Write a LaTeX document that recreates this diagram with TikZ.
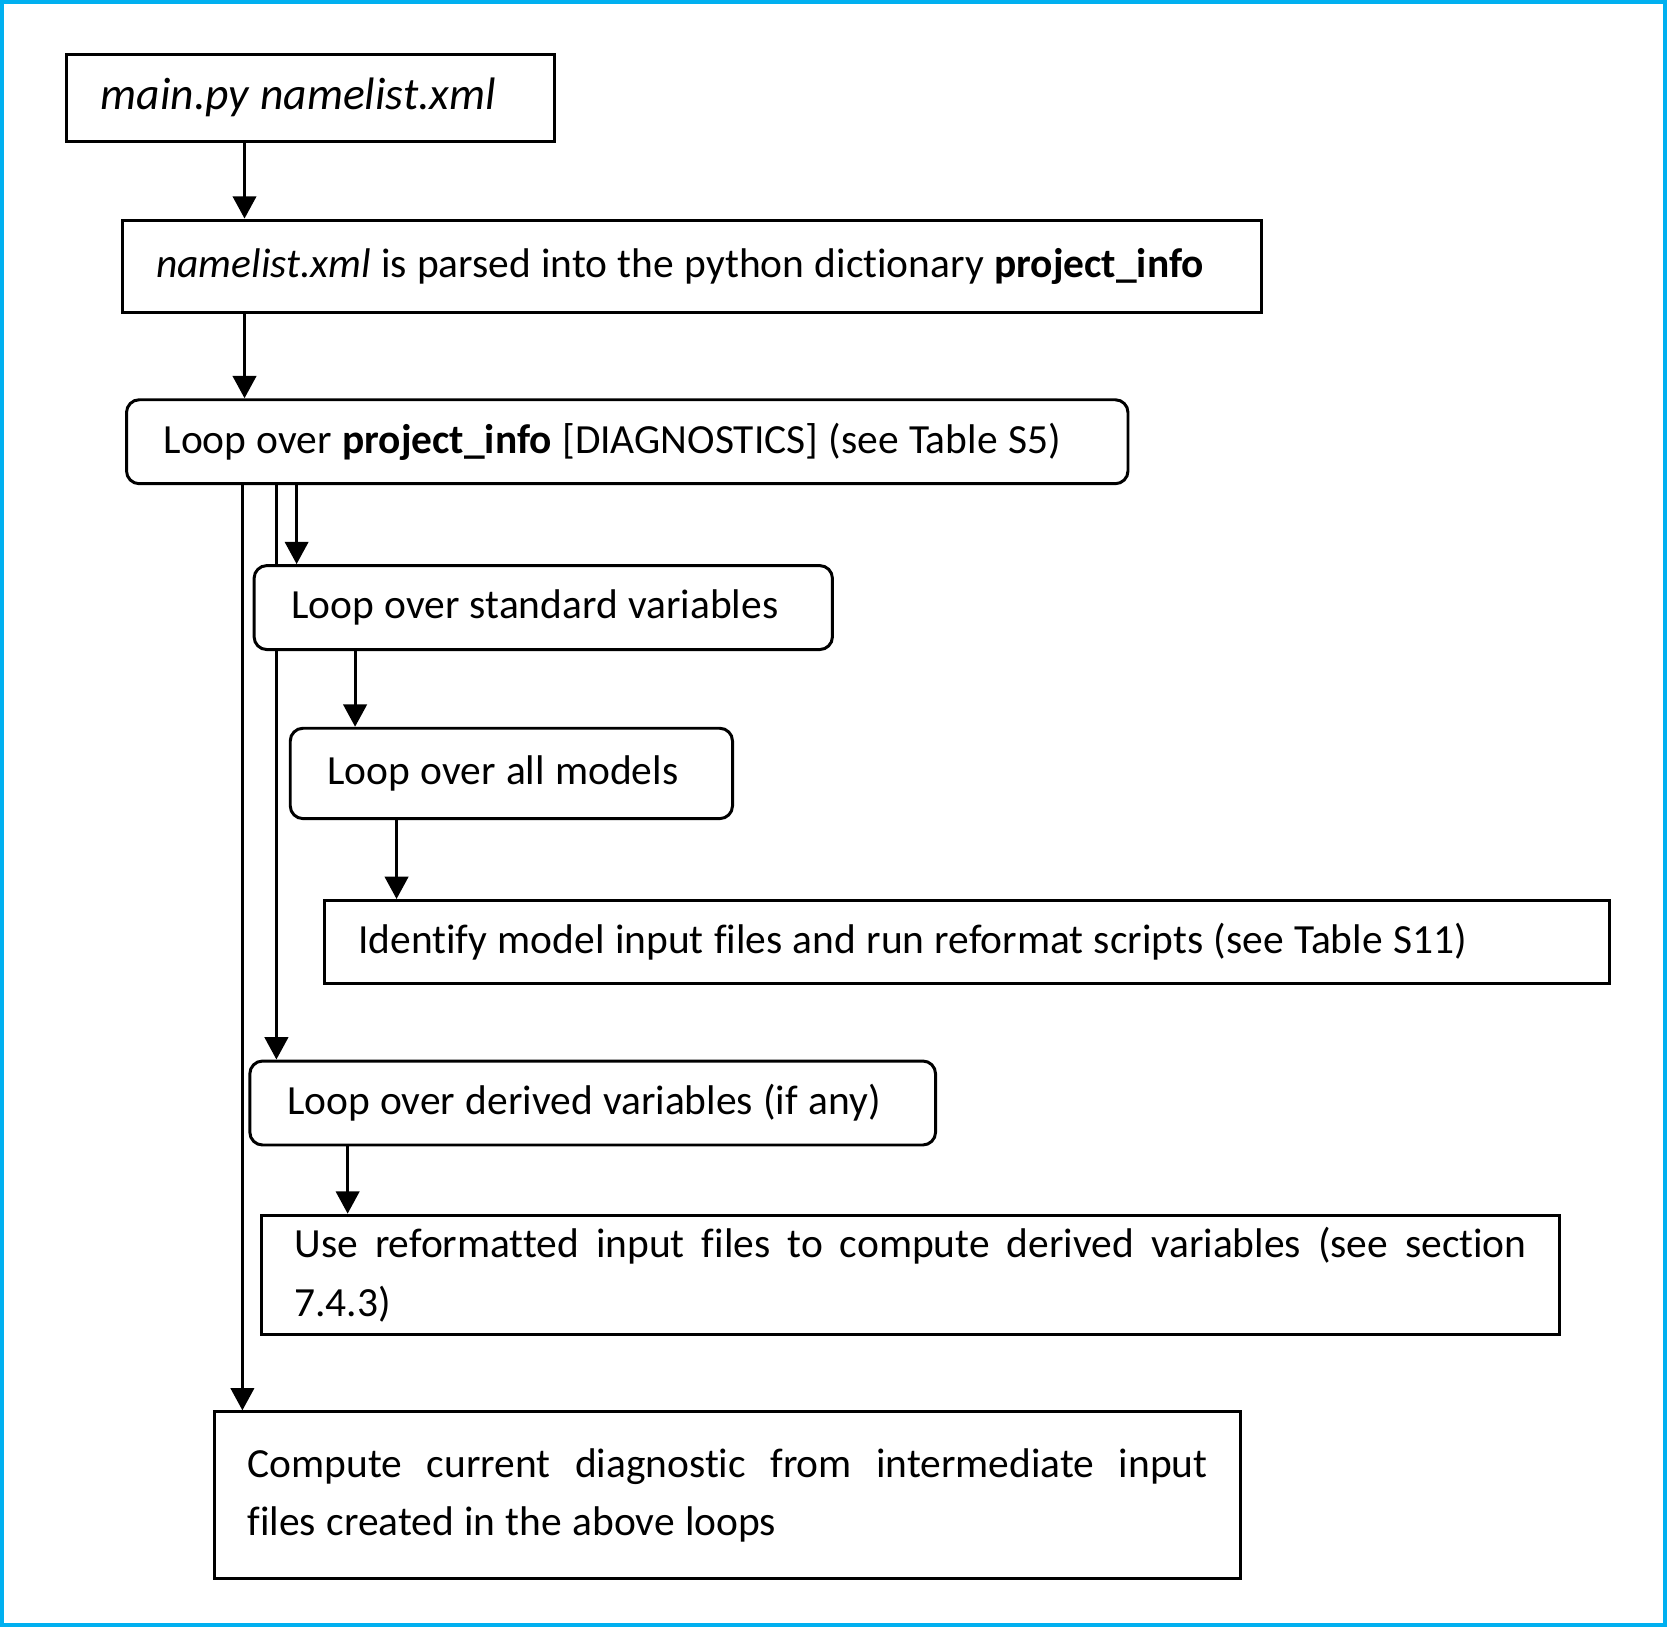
\documentclass[tikz,border=0pt]{standalone}
\usepackage{fontspec}
\setmainfont[WordSpace=1.1,Ligatures=NoCommon]{Carlito}
\usetikzlibrary{arrows.meta}
\definecolor{frameblue}{RGB}{0,176,240}
\begin{document}
\begin{tikzpicture}[x=0.5pt,y=-0.5pt,
  every node/.style={font=\fontsize{19.5pt}{27.5pt}\selectfont},
  sbox/.style={draw,line width=1.4pt,fill=white,align=justify,inner xsep=16pt,inner ysep=0pt},
  rbox/.style={sbox,rounded corners=6pt,inner xsep=17.5pt},
  jbox/.style={sbox,inner xsep=15.5pt},
  arr/.style={line width=1.4pt,-{Triangle[width=11pt,length=10.5pt]}},
  conn/.style={line width=1.4pt}]
\useasboundingbox (0,0) rectangle (1568,1530);
\draw[frameblue,line width=1.9pt] (1.9,1.9) rectangle (1566.1,1528.1);

\node[sbox,text width=197.5pt,minimum height=41pt,font=\fontsize{21.4pt}{27.5pt}\selectfont] (b1) at (292.5,92) {\itshape main.py namelist.xml};
\node[sbox,text width=504pt,minimum height=43.5pt] (b2) at (651,250.5) {\textit{namelist.xml} is parsed into the python dictionary \textbf{project\_info}};
\node[rbox,text width=436pt,minimum height=39.5pt] (b3) at (590,415.5) {Loop over \textbf{project\_info} [DIAGNOSTICS] (see Table S5)};
\node[rbox,text width=237pt,minimum height=39.5pt] (b4) at (511,571.5) {Loop over standard variables};
\node[rbox,text width=173pt,minimum height=42.5pt] (b5) at (481,727.5) {Loop over all models};
\node[sbox,text width=572.5pt,minimum height=39pt] (b6) at (909.5,886) {Identify model input files and run reformat scripts (see Table S11)};
\node[rbox,text width=287.5pt,minimum height=39.5pt] (b7) at (557.5,1037.5) {Loop over derived variables (if any)};
\node[jbox,text width=579.5pt,minimum height=56pt] (b8) at (856.5,1199) {Use reformatted input files to compute derived variables (see section\linebreak 7.4.3)};
\node[jbox,text width=451.5pt,minimum height=78.5pt] (b9) at (684.5,1406.5) {Compute current diagnostic from intermediate input\linebreak files created in the above loops};

\coordinate (xa) at (230,0);
\coordinate (xb) at (228,0);
\coordinate (xc) at (279,0);
\coordinate (xd) at (260,0);
\coordinate (xe) at (334,0);
\coordinate (xf) at (373,0);
\coordinate (xg) at (327,0);

\draw[arr] (b1.south -| xa) -- (b2.north -| xa);
\draw[arr] (b2.south -| xa) -- (b3.north -| xa);
\draw[arr] (b3.south -| xb) -- (b9.north -| xb);
\draw[arr] (b3.south -| xc) -- (b4.north -| xc);
\draw[conn] (b3.south -| xd) -- (b4.north -| xd);
\draw[arr] (b4.south -| xd) -- (b7.north -| xd);
\draw[arr] (b4.south -| xe) -- (b5.north -| xe);
\draw[arr] (b5.south -| xf) -- (b6.north -| xf);
\draw[arr] (b7.south -| xg) -- (b8.north -| xg);
\end{tikzpicture}
\end{document}
